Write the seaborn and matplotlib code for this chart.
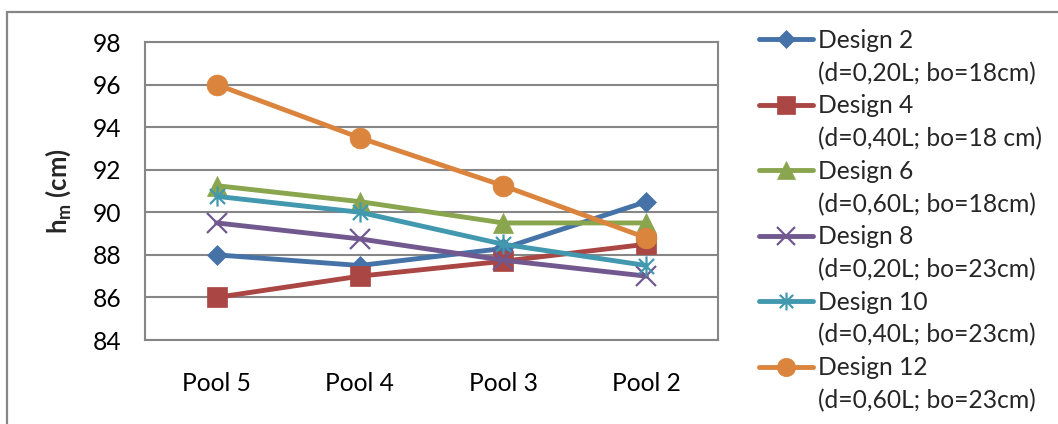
import matplotlib
matplotlib.use("Agg")
import matplotlib.pyplot as plt
from matplotlib.path import Path
from matplotlib.patches import Rectangle
from matplotlib.lines import Line2D
import pandas as pd
import seaborn as sns

# Data
pools = ["Pool 5", "Pool 4", "Pool 3", "Pool 2"]
designs = ["Design 2", "Design 4", "Design 6", "Design 8", "Design 10", "Design 12"]
details = ["(d=0,20L; bo=18cm)", "(d=0,40L; bo=18 cm)", "(d=0,60L; bo=18cm)",
           "(d=0,20L; bo=23cm)", "(d=0,40L; bo=23cm)", "(d=0,60L; bo=23cm)"]
design_2 = [88.0, 87.5, 88.3, 90.5]
design_4 = [86.0, 87.0, 87.7, 88.5]
design_6 = [91.25, 90.5, 89.5, 89.5]
design_8 = [89.5, 88.75, 87.75, 87.0]
design_10 = [90.75, 90.0, 88.5, 87.5]
design_12 = [96.0, 93.5, 91.25, 88.8]
series = [design_2, design_4, design_6, design_8, design_10, design_12]

colors = ["#4572A7", "#AA4643", "#89A54E", "#71588F", "#4198AF", "#DB843D"]

asterisk = Path([(0, -1), (0, 1), (-0.75, -0.75), (0.75, 0.75), (-0.75, 0.75), (0.75, -0.75)],
                [Path.MOVETO, Path.LINETO, Path.MOVETO, Path.LINETO, Path.MOVETO, Path.LINETO])
markers = ["D", "s", "^", "x", asterisk, "o"]
msizes = [10.5, 14.5, 14.5, 14, 14.5, 15]
filled = [True, True, True, False, False, True]

rows = []
for name, vals in zip(designs, series):
    for i, v in enumerate(vals):
        rows.append({"design": name, "pos": i, "pool": pools[i], "h": v})
df = pd.DataFrame(rows)

sns.set_theme(style="white")
plt.rcParams["font.family"] = ["Lato", "DejaVu Sans"]
plt.rcParams["mathtext.fontset"] = "custom"
plt.rcParams["mathtext.rm"] = "Lato"
plt.rcParams["mathtext.bf"] = "Lato:bold"
plt.rcParams["mathtext.it"] = "Lato:italic"

FS = 17.7
GRAY = "#868686"

fig = plt.figure(figsize=(10.58, 4.24), dpi=100)
ax = fig.add_axes([145 / 1058, 1 - 340 / 424, 573 / 1058, 298 / 424])

handles = []
for name, col, mk, ms, fl in zip(designs, colors, markers, msizes, filled):
    sub = df[df["design"] == name]
    kw = dict(marker=mk, markersize=ms, color=col, lw=3.5, mec=col)
    if fl:
        kw.update(mfc=col, mew=0.5)
    else:
        kw.update(mew=1.6)
    sns.lineplot(data=sub, x="pos", y="h", ax=ax, sort=False, legend=False, **kw)
    hk = dict(kw)
    hk["markersize"] = ms * 0.88
    handles.append(Line2D([], [], **hk))

ax.set_xlim(-0.5, len(pools) - 0.5)
ax.set_ylim(84, 98)
ax.set_yticks(range(84, 99, 2))
ax.set_xticks(range(len(pools)))
ax.set_xticklabels(pools)
ax.tick_params(axis="both", length=0, labelsize=FS, colors="black")
ax.tick_params(axis="y", pad=17)
ax.tick_params(axis="x", pad=23)
ax.yaxis.grid(True, color=GRAY, lw=1.5)
ax.set_axisbelow(True)
for sp in ax.spines.values():
    sp.set_color(GRAY)
    sp.set_linewidth(1.5)
ax.set_xlabel("")
ax.set_ylabel(r"$\mathbf{h_m}$ (cm)", fontsize=18.5, fontweight="bold")
ax.yaxis.set_label_coords(-0.125, 0.5)

# Two-line legend entries: marker handle beside the design name, blank handle beside details
blank = Line2D([], [], color="none")
leg_handles, leg_labels = [], []
for h, name, det in zip(handles, designs, details):
    leg_handles += [h, blank]
    leg_labels += [name, det]
fig.legend(leg_handles, leg_labels, loc="upper left",
           bbox_to_anchor=(759 / 1058, 1 - 29 / 424), frameon=False,
           fontsize=FS, handlelength=2.2, handletextpad=0.2,
           labelspacing=0.39, borderpad=0, borderaxespad=0)

fig.patches.append(Rectangle((7 / 1058, -0.1), 1.2, 0.1 + 1 - 12 / 424,
                             transform=fig.transFigure, fill=False,
                             edgecolor=GRAY, lw=1.6))

fig.savefig("out.png", dpi=100, facecolor="white")
